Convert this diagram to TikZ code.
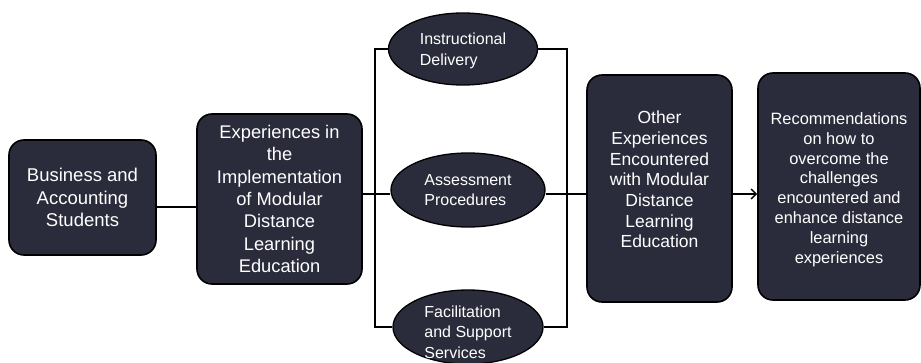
\documentclass[tikz,border=0pt]{standalone}
\usepackage{fontspec}
\setmainfont{Liberation Sans}
\usetikzlibrary{arrows.meta,shapes.geometric}
\definecolor{boxfill}{HTML}{2B2C3B}
\begin{document}
\begin{tikzpicture}[x=1pt,y=-1pt,
  box/.style={draw=black,line width=1.6pt,fill=boxfill,rounded corners=15pt,
    text=white,align=center,inner sep=0pt},
  boxtext/.style={text=white,align=center,inner sep=0pt},
  oval/.style={ellipse,draw=black,line width=1.3pt,fill=boxfill,inner sep=0pt},
  ovaltext/.style={text=white,align=left,inner sep=0pt,
    font=\fontsize{16}{20.5}\selectfont},
  link/.style={draw=black,line width=1.4pt},
  ]
\useasboundingbox (0,0) rectangle (921,363);

% main boxes
\node[box,minimum width=147pt,minimum height=115pt,
  font=\fontsize{18.5}{22.5}\selectfont] (students) at (82.5,197.5)
  {Business and\\Accounting\\Students};
\node[box,minimum width=165pt,minimum height=170pt,
  font=\fontsize{18.3}{22.3}\selectfont] (impl) at (279.5,199)
  {Experiences in\\the\\Implementation\\of Modular\\Distance\\Learning\\Education};
\node[box,minimum width=145pt,minimum height=227pt,
  label={[boxtext,yshift=9pt,font=\fontsize{17.5}{20.7}\selectfont]center:{Other\\Experiences\\Encountered\\with Modular\\Distance\\Learning\\Education}}]
  (other) at (659.5,188.5) {};
\node[box,minimum width=162pt,minimum height=227pt,
  label={[boxtext,yshift=-3pt,font=\fontsize{16.4}{19.8}\selectfont]center:{Recommendations\\on how to\\overcome the\\challenges\\encountered and\\enhance distance\\learning\\experiences}}]
  (recom) at (839,186.5) {};

% the three aspects
\node[oval,minimum width=149pt,minimum height=72pt,
  label={[ovaltext,yshift=-2pt]center:{Instructional\\Delivery}}] (instr) at (463,49) {};
\node[oval,minimum width=154pt,minimum height=74pt,
  label={[ovaltext]center:{Assessment\\Procedures}}] (assess) at (468,190) {};
\node[oval,minimum width=150pt,minimum height=74pt,
  label={[ovaltext,yshift=-5pt]center:{Facilitation\\and Support\\Services}}] (facil) at (468,327) {};

% bracket positions and connector levels
\coordinate (lbar) at (375,0);
\coordinate (rbar) at (567,0);
\coordinate (lowlevel) at (0,207);
\coordinate (midlevel) at (0,194);

% connectors
\draw[link] (students.east |- lowlevel) -- (impl.west |- lowlevel);
\draw[link] (impl.east |- midlevel) -- (assess.west |- midlevel);
\draw[link] (instr.west) -- (instr.west -| lbar) -- (facil.west -| lbar) -- (facil.west);
\draw[link] (instr.east) -- (instr.east -| rbar) -- (facil.east -| rbar) -- (facil.east);
\draw[link] (assess.east |- midlevel) -- (other.west |- midlevel);
\draw[link,-{Straight Barb[length=5pt,width=10pt,line width=1.4pt]}]
  (other.east |- midlevel) -- (recom.west |- midlevel);
\end{tikzpicture}
\end{document}
